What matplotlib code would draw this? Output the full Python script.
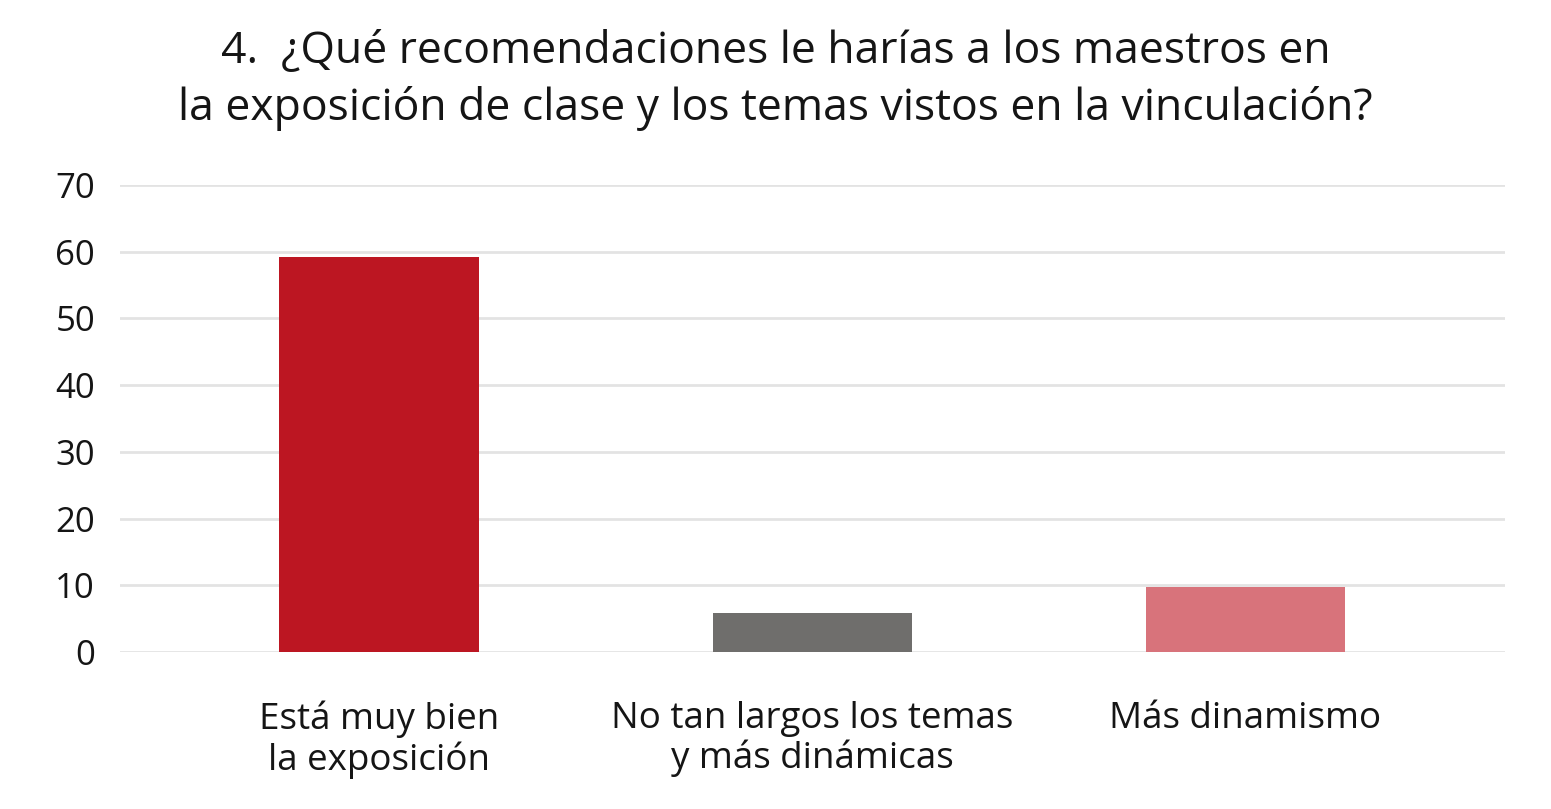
import matplotlib
matplotlib.use("Agg")
import matplotlib.pyplot as plt

# ── data ──────────────────────────────────────────────────────────────────────
categories = ["Está muy bien\nla exposición",
              "No tan largos los temas\ny más dinámicas",
              "Más dinamismo"]
values     = [59.2, 5.9, 9.7]
colors     = ["#BC1622", "#6F6E6C", "#D8737B"]
yticks     = [0, 10, 20, 30, 40, 50, 60, 70]
title      = "4.  ¿Qué recomendaciones le harías a los maestros en\nla exposición de clase y los temas vistos en la vinculación?"

plt.rcParams["font.family"] = ["Open Sans", "DejaVu Sans"]

fig = plt.figure(figsize=(15.51, 8.09), dpi=100)
ax = fig.add_axes([0.0774, 0.194, 0.8932, 0.5773])

x = list(range(len(categories)))
ax.bar(x, values, width=0.46, color=colors, zorder=3)

ax.set_ylim(0, 70)
ax.set_xlim(-0.598, 2.6)
ax.set_yticks(yticks)
ax.yaxis.grid(True, color="#E3E3E3", lw=2, zorder=0)
ax.set_axisbelow(True)
for s in ax.spines.values():
    s.set_visible(False)
ax.tick_params(axis="y", length=0, pad=18, labelsize=25, labelcolor="#151515")
ax.set_xticks(x)
ax.set_xticklabels(categories, fontsize=26.5, color="#151515", linespacing=1.1)
ax.tick_params(axis="x", length=0, pad=35)

fig.text(0.5, 0.965, title, ha="center", va="top", fontsize=32,
         color="#151515", linespacing=1.38)

fig.savefig("out.png", dpi=100)
